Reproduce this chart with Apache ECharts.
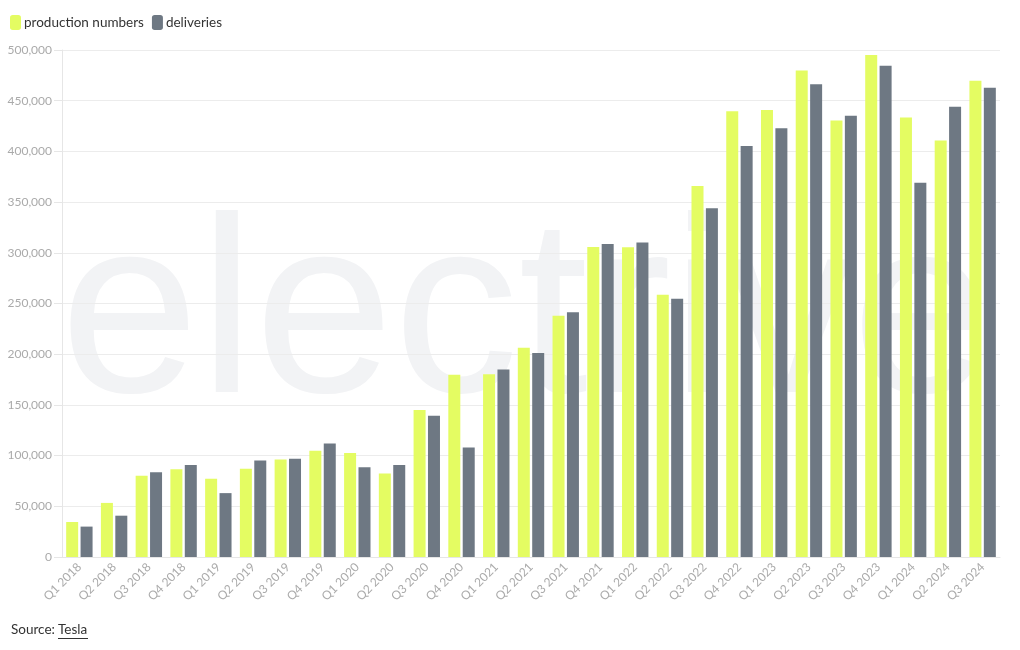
<!DOCTYPE html>
<html>
<head>
<meta charset="utf-8">
<script src="https://cdn.jsdelivr.net/npm/echarts@6/dist/echarts.min.js"></script>
<style>
html,body{margin:0;padding:0;background:#fff;}
#chart{width:1020px;height:650px;}
</style>
</head>
<body>
<div id="chart"></div>
<script>
var categories = ['Q1 2018','Q2 2018','Q3 2018','Q4 2018','Q1 2019','Q2 2019','Q3 2019','Q4 2019','Q1 2020','Q2 2020','Q3 2020','Q4 2020','Q1 2021','Q2 2021','Q3 2021','Q4 2021','Q1 2022','Q2 2022','Q3 2022','Q4 2022','Q1 2023','Q2 2023','Q3 2023','Q4 2023','Q1 2024','Q2 2024','Q3 2024'];
var production = [34494,53339,80142,86555,77100,87048,96155,104891,102672,82272,145036,179757,180338,206421,237823,305840,305407,258580,365923,439701,440808,479700,430488,494989,433371,410831,469796];
var deliveries = [29980,40740,83500,90700,63000,95200,97000,112000,88400,90650,139300,108000,184800,201250,241300,308600,310048,254695,343830,405278,422875,466140,435059,484507,369000,443956,462890];
var yTicks = {min:0, max:500000, interval:50000};

var chart = echarts.init(document.getElementById('chart'), null, {renderer:'canvas'});
var font = 'Lato, "Noto Sans", sans-serif';
chart.setOption({
  animation:false,
  backgroundColor:'#fff',
  textStyle:{fontFamily:font},
  legend:{
    left:5, top:10, itemWidth:11, itemHeight:15, itemGap:8,
    icon:'roundRect',
    textStyle:{fontSize:13.5, color:'#333', fontFamily:font, padding:[0,0,0,-2]},
    data:['production numbers','deliveries']
  },
  grid:{left:62, right:20, top:50, bottom:93, containLabel:false},
  graphic:[
    {type:'text', z:-10, left:60, top:198, silent:true,
     style:{text:'electrive', font:'250px "Liberation Sans", Arial, sans-serif', fill:'#f2f3f5'}},
    {type:'text', left:11, top:623,
     style:{text:'Source:', font:'13.5px '+font, fill:'#333'}},
    {type:'text', left:58, top:623,
     style:{text:'Tesla', font:'13.5px '+font, fill:'#333'}},
    {type:'line', shape:{x1:58, y1:638.5, x2:88, y2:638.5}, style:{stroke:'#333', lineWidth:1}}
  ],
  xAxis:{
    type:'category', data:categories,
    axisLine:{lineStyle:{color:'#e6e6e6'}},
    axisTick:{alignWithLabel:true, length:6, lineStyle:{color:'#e6e6e6'}},
    axisLabel:{rotate:45, color:'#aaa', fontSize:12, margin:8, interval:0, fontFamily:font}
  },
  yAxis:{
    type:'value', min:yTicks.min, max:yTicks.max, interval:yTicks.interval,
    axisLine:{show:true, lineStyle:{color:'#e6e6e6'}},
    axisTick:{show:true, length:8, lineStyle:{color:'#e6e6e6'}},
    splitLine:{lineStyle:{color:'#ececec'}},
    axisLabel:{color:'#aaa', fontSize:12, margin:10, fontFamily:font,
      formatter:function(v){return v.toLocaleString('en-US');}}
  },
  series:[
    {name:'production numbers', type:'bar', data:production, barWidth:12, barGap:'20%',
     itemStyle:{color:'#e4fc62'}},
    {name:'deliveries', type:'bar', data:deliveries, barWidth:12,
     itemStyle:{color:'#6e7883'}}
  ]
});
</script>
</body>
</html>
